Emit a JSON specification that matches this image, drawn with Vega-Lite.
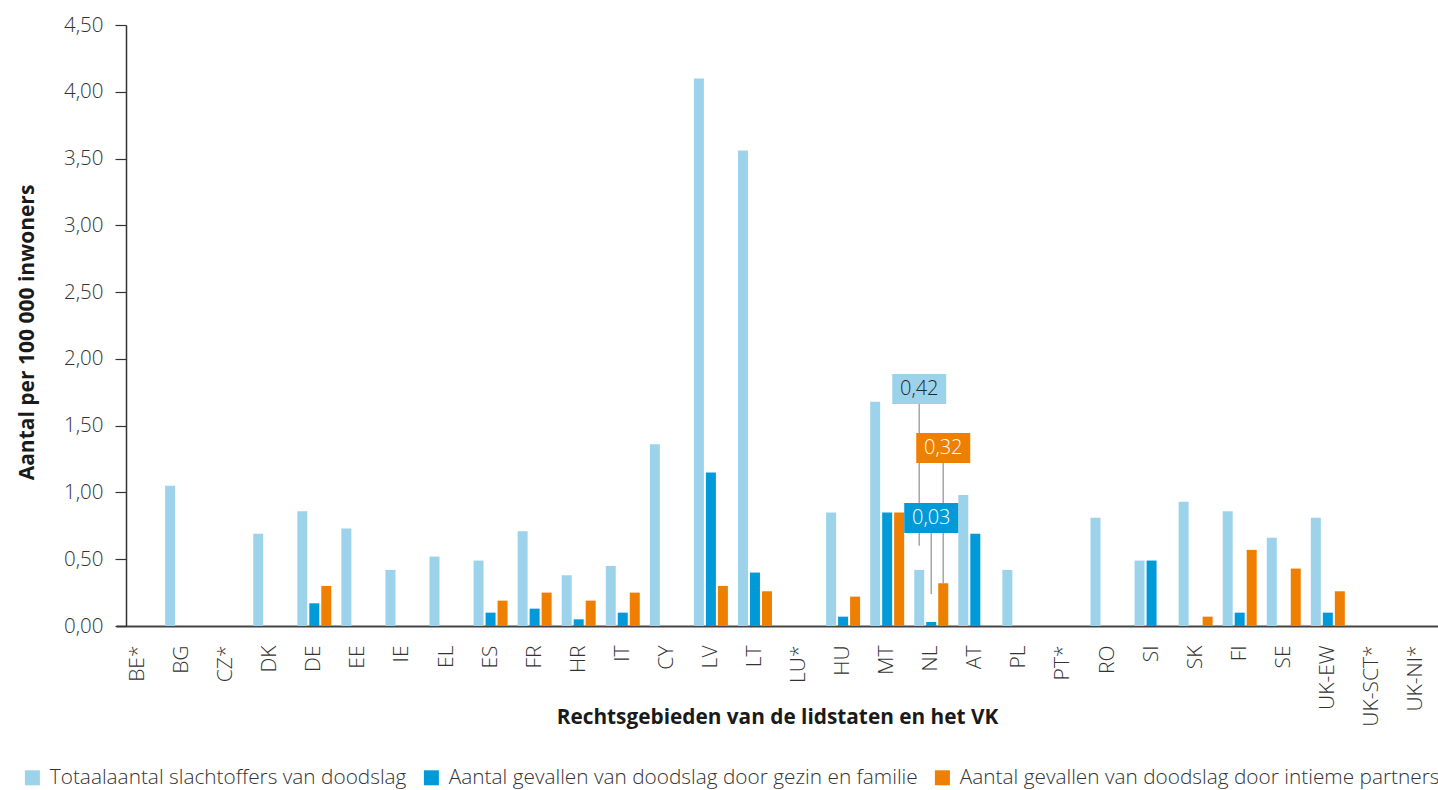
{
  "$schema": "https://vega.github.io/schema/vega-lite/v6.json",
  "autosize": {"type": "none"},
  "padding": {"left": 116, "top": 25, "right": 0, "bottom": 164},
  "width": 1322,
  "height": 601,
  "config": {
    "font": "Open Sans",
    "view": {"stroke": null},
    "axis": {"labelFont": "Open Sans", "titleFont": "Open Sans", "grid": false}
  },
  "datasets": {
    "bars": [
      {"land": "BG", "serie": "Totaalaantal slachtoffers van doodslag", "waarde": 1.05},
      {"land": "DK", "serie": "Totaalaantal slachtoffers van doodslag", "waarde": 0.69},
      {"land": "DE", "serie": "Totaalaantal slachtoffers van doodslag", "waarde": 0.86},
      {"land": "DE", "serie": "Aantal gevallen van doodslag door gezin en familie", "waarde": 0.17},
      {"land": "DE", "serie": "Aantal gevallen van doodslag door intieme partners", "waarde": 0.30},
      {"land": "EE", "serie": "Totaalaantal slachtoffers van doodslag", "waarde": 0.73},
      {"land": "IE", "serie": "Totaalaantal slachtoffers van doodslag", "waarde": 0.42},
      {"land": "EL", "serie": "Totaalaantal slachtoffers van doodslag", "waarde": 0.52},
      {"land": "ES", "serie": "Totaalaantal slachtoffers van doodslag", "waarde": 0.49},
      {"land": "ES", "serie": "Aantal gevallen van doodslag door gezin en familie", "waarde": 0.10},
      {"land": "ES", "serie": "Aantal gevallen van doodslag door intieme partners", "waarde": 0.19},
      {"land": "FR", "serie": "Totaalaantal slachtoffers van doodslag", "waarde": 0.71},
      {"land": "FR", "serie": "Aantal gevallen van doodslag door gezin en familie", "waarde": 0.13},
      {"land": "FR", "serie": "Aantal gevallen van doodslag door intieme partners", "waarde": 0.25},
      {"land": "HR", "serie": "Totaalaantal slachtoffers van doodslag", "waarde": 0.38},
      {"land": "HR", "serie": "Aantal gevallen van doodslag door gezin en familie", "waarde": 0.05},
      {"land": "HR", "serie": "Aantal gevallen van doodslag door intieme partners", "waarde": 0.19},
      {"land": "IT", "serie": "Totaalaantal slachtoffers van doodslag", "waarde": 0.45},
      {"land": "IT", "serie": "Aantal gevallen van doodslag door gezin en familie", "waarde": 0.10},
      {"land": "IT", "serie": "Aantal gevallen van doodslag door intieme partners", "waarde": 0.25},
      {"land": "CY", "serie": "Totaalaantal slachtoffers van doodslag", "waarde": 1.36},
      {"land": "LV", "serie": "Totaalaantal slachtoffers van doodslag", "waarde": 4.10},
      {"land": "LV", "serie": "Aantal gevallen van doodslag door gezin en familie", "waarde": 1.15},
      {"land": "LV", "serie": "Aantal gevallen van doodslag door intieme partners", "waarde": 0.30},
      {"land": "LT", "serie": "Totaalaantal slachtoffers van doodslag", "waarde": 3.56},
      {"land": "LT", "serie": "Aantal gevallen van doodslag door gezin en familie", "waarde": 0.40},
      {"land": "LT", "serie": "Aantal gevallen van doodslag door intieme partners", "waarde": 0.26},
      {"land": "HU", "serie": "Totaalaantal slachtoffers van doodslag", "waarde": 0.85},
      {"land": "HU", "serie": "Aantal gevallen van doodslag door gezin en familie", "waarde": 0.07},
      {"land": "HU", "serie": "Aantal gevallen van doodslag door intieme partners", "waarde": 0.22},
      {"land": "MT", "serie": "Totaalaantal slachtoffers van doodslag", "waarde": 1.68},
      {"land": "MT", "serie": "Aantal gevallen van doodslag door gezin en familie", "waarde": 0.85},
      {"land": "MT", "serie": "Aantal gevallen van doodslag door intieme partners", "waarde": 0.85},
      {"land": "NL", "serie": "Totaalaantal slachtoffers van doodslag", "waarde": 0.42},
      {"land": "NL", "serie": "Aantal gevallen van doodslag door gezin en familie", "waarde": 0.03},
      {"land": "NL", "serie": "Aantal gevallen van doodslag door intieme partners", "waarde": 0.32},
      {"land": "AT", "serie": "Totaalaantal slachtoffers van doodslag", "waarde": 0.98},
      {"land": "AT", "serie": "Aantal gevallen van doodslag door gezin en familie", "waarde": 0.69},
      {"land": "PL", "serie": "Totaalaantal slachtoffers van doodslag", "waarde": 0.42},
      {"land": "RO", "serie": "Totaalaantal slachtoffers van doodslag", "waarde": 0.81},
      {"land": "SI", "serie": "Totaalaantal slachtoffers van doodslag", "waarde": 0.49},
      {"land": "SI", "serie": "Aantal gevallen van doodslag door gezin en familie", "waarde": 0.49},
      {"land": "SK", "serie": "Totaalaantal slachtoffers van doodslag", "waarde": 0.93},
      {"land": "SK", "serie": "Aantal gevallen van doodslag door intieme partners", "waarde": 0.07},
      {"land": "FI", "serie": "Totaalaantal slachtoffers van doodslag", "waarde": 0.86},
      {"land": "FI", "serie": "Aantal gevallen van doodslag door gezin en familie", "waarde": 0.10},
      {"land": "FI", "serie": "Aantal gevallen van doodslag door intieme partners", "waarde": 0.57},
      {"land": "SE", "serie": "Totaalaantal slachtoffers van doodslag", "waarde": 0.66},
      {"land": "SE", "serie": "Aantal gevallen van doodslag door intieme partners", "waarde": 0.43},
      {"land": "UK-EW", "serie": "Totaalaantal slachtoffers van doodslag", "waarde": 0.81},
      {"land": "UK-EW", "serie": "Aantal gevallen van doodslag door gezin en familie", "waarde": 0.10},
      {"land": "UK-EW", "serie": "Aantal gevallen van doodslag door intieme partners", "waarde": 0.26}
    ],
    "callouts": [
      {"land": "NL", "serie": "Totaalaantal slachtoffers van doodslag", "label": "0,42", "labelLevel": 1.775, "lineEnd": 0.60},
      {"land": "NL", "serie": "Aantal gevallen van doodslag door intieme partners", "label": "0,32", "labelLevel": 1.333, "lineEnd": 0.32},
      {"land": "NL", "serie": "Aantal gevallen van doodslag door gezin en familie", "label": "0,03", "labelLevel": 0.809, "lineEnd": 0.24}
    ]
  },
  "encoding": {
    "x": {
      "field": "land", "type": "nominal",
      "scale": {
        "domain": ["BE*", "BG", "CZ*", "DK", "DE", "EE", "IE", "EL", "ES", "FR", "HR", "IT", "CY", "LV", "LT", "LU*", "HU", "MT", "NL", "AT", "PL", "PT*", "RO", "SI", "SK", "FI", "SE", "UK-EW", "UK-SCT*", "UK-NI*"],
        "paddingInner": 0, "paddingOuter": 0
      },
      "axis": {
        "title": "Rechtsgebieden van de lidstaten en het VK",
        "titleFontSize": 20.8, "titleFontWeight": "bold", "titleColor": "#1a1a1a",
        "titleBaseline": "alphabetic", "titleY": 97,
        "labelAngle": -90, "labelFontSize": 21, "labelFontWeight": 300, "labelColor": "#333333", "labelPadding": 19,
        "ticks": false, "tickSize": 0,
        "domainColor": "#444444", "domainWidth": 2
      }
    },
    "xOffset": {
      "field": "serie", "type": "nominal",
      "scale": {
        "domain": ["Totaalaantal slachtoffers van doodslag", "Aantal gevallen van doodslag door gezin en familie", "Aantal gevallen van doodslag door intieme partners"],
        "paddingInner": 0.167, "paddingOuter": 0.42
      }
    }
  },
  "layer": [
    {
      "data": {"name": "bars"},
      "mark": {"type": "bar"},
      "encoding": {
        "y": {
          "field": "waarde", "type": "quantitative",
          "scale": {"domain": [0, 4.5], "nice": false},
          "axis": {
            "title": "Aantal per 100 000 inwoners",
            "titleFontSize": 21, "titleFontWeight": "bold", "titleColor": "#1a1a1a", "titlePadding": 26,
            "titleY": 307,
            "values": [0, 0.5, 1, 1.5, 2, 2.5, 3, 3.5, 4, 4.5],
            "labelExpr": "replace(format(datum.value, '.2f'), '.', ',')",
            "labelFontSize": 20.5, "labelFontWeight": 300, "labelColor": "#333333", "labelPadding": 12,
            "tickSize": 11, "tickColor": "#333333", "tickWidth": 1.2,
            "domainColor": "#333333", "domainWidth": 1.5,
            "offset": -10
          }
        },
        "color": {
          "field": "serie", "type": "nominal",
          "scale": {
            "domain": ["Totaalaantal slachtoffers van doodslag", "Aantal gevallen van doodslag door gezin en familie", "Aantal gevallen van doodslag door intieme partners"],
            "range": ["#9DD3EA", "#009AD8", "#EE7F00"]
          },
          "legend": {
            "title": null, "orient": "none", "direction": "horizontal",
            "legendX": -94, "legendY": 742,
            "symbolType": "square", "symbolSize": 225, "symbolStrokeWidth": 0,
            "labelFontSize": 20.8, "labelFontWeight": 300, "labelColor": "#333333", "labelFont": "Open Sans",
            "labelOffset": 7, "columnPadding": 14, "labelLimit": 600
          }
        }
      }
    },
    {
      "data": {"name": "callouts"},
      "mark": {"type": "rule", "color": "#a6a6a6", "strokeWidth": 1.5},
      "encoding": {
        "y": {"field": "labelLevel", "type": "quantitative"},
        "y2": {"field": "lineEnd"}
      }
    },
    {
      "data": {"name": "callouts"},
      "mark": {"type": "point", "filled": true, "opacity": 1, "shape": "M-1,-0.556H1V0.556H-1Z", "size": 2916},
      "encoding": {
        "y": {"field": "labelLevel", "type": "quantitative"},
        "color": {"field": "serie", "type": "nominal", "legend": null}
      }
    },
    {
      "data": {"name": "callouts"},
      "mark": {"type": "text", "fontSize": 20, "fontWeight": 300, "font": "Open Sans", "align": "center", "baseline": "middle"},
      "encoding": {
        "y": {"field": "labelLevel", "type": "quantitative"},
        "text": {"field": "label"},
        "color": {
          "condition": {"test": "datum.serie === 'Totaalaantal slachtoffers van doodslag'", "value": "#1d2933"},
          "value": "#ffffff"
        }
      }
    }
  ]
}
